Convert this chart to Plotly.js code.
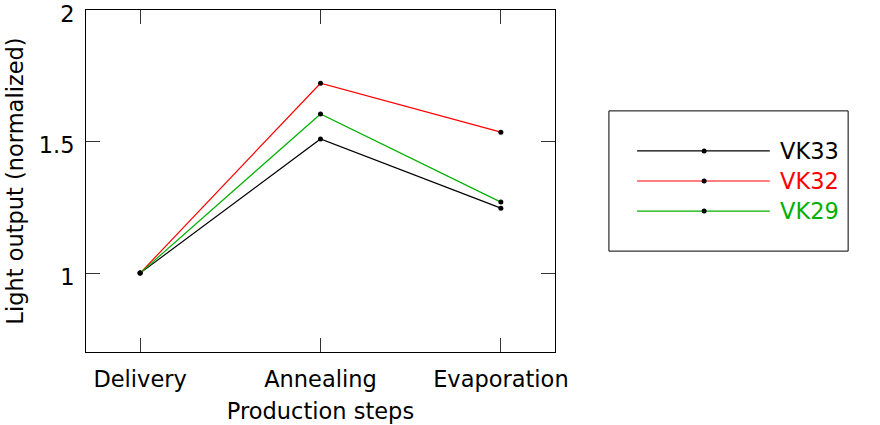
<!DOCTYPE html>
<html>
<head>
<meta charset="utf-8">
<script src="https://cdn.plot.ly/plotly-3.0.1.min.js"></script>
<style>html,body{margin:0;padding:0;background:#fff;}#chart{width:880px;height:425px;}</style>
</head>
<body>
<div id="chart"></div>
<script>
const steps = ["Delivery", "Annealing", "Evaporation"];
const seriesNames = ["VK33", "VK32", "VK29"];
const seriesColors = ["#000000", "#ff0000", "#00b000"];
const vk33 = [1.0, 1.51, 1.247];
const vk32 = [1.0, 1.722, 1.536];
const vk29 = [1.0, 1.605, 1.27];
const yTickVals = [1, 1.5, 2];
const yTickText = ["1", "1.5", "2"];

const FONT = "DejaVu Sans, sans-serif";
const FS = 22.5;
const allValues = [vk33, vk32, vk29];
const xIdx = steps.map((s, i) => i);

const traces = allValues.map((vals, k) => ({
  x: xIdx,
  y: vals,
  type: "scatter",
  mode: "lines+markers",
  name: seriesNames[k],
  line: {color: seriesColors[k], width: 1.2},
  marker: {color: "#000", size: 5},
  hoverinfo: "skip",
  showlegend: false
}));

// manual legend in paper coordinates
const legRowsY = [0.588, 0.5, 0.412];
const shapes = [{
  type: "rect", xref: "paper", yref: "paper",
  x0: 1.115, x1: 1.625, y0: 0.295, y1: 0.705,
  line: {color: "#000", width: 1}
}];
const annotations = [];
seriesNames.forEach((n, k) => {
  shapes.push({
    type: "line", xref: "paper", yref: "paper",
    x0: 1.175, x1: 1.458, y0: legRowsY[k], y1: legRowsY[k],
    line: {color: seriesColors[k], width: 1.2}
  });
  shapes.push({
    type: "circle", xref: "paper", yref: "paper",
    xsizemode: "pixel", ysizemode: "pixel",
    xanchor: 1.318, yanchor: legRowsY[k],
    x0: -2.5, x1: 2.5, y0: -2.5, y1: 2.5,
    fillcolor: "#000", line: {color: "#000", width: 0}
  });
  annotations.push({
    xref: "paper", yref: "paper", x: 1.476, y: legRowsY[k],
    xanchor: "left", yanchor: "middle", showarrow: false,
    text: n, font: {family: FONT, size: FS, color: seriesColors[k]}
  });
});

const layout = {
  width: 880, height: 425,
  margin: {l: 86, r: 325, t: 10, b: 73, pad: 0},
  paper_bgcolor: "#fff", plot_bgcolor: "#fff",
  font: {family: FONT, size: FS, color: "#000"},
  showlegend: false,
  xaxis: {
    range: [-0.3, 2.3],
    tickvals: xIdx, ticktext: steps,
    ticks: "inside", ticklen: 14, tickwidth: 1, tickcolor: "#333",
    ticklabelstandoff: 7,
    showline: true, linecolor: "#000", linewidth: 1, mirror: "ticks",
    showgrid: false, zeroline: false,
    tickfont: {family: FONT, size: FS, color: "#000"},
    title: {text: "Production steps", font: {family: FONT, size: FS, color: "#000"}, standoff: 12}
  },
  yaxis: {
    range: [0.7, 2.0005],
    tickvals: yTickVals, ticktext: yTickText,
    ticks: "inside", ticklen: 14, tickwidth: 1, tickcolor: "#333",
    ticklabelstandoff: 6, ticklabelshift: 4, ticklabeloverflow: "allow",
    showline: true, linecolor: "#000", linewidth: 1, mirror: "ticks",
    showgrid: false, zeroline: false,
    tickfont: {family: FONT, size: FS, color: "#000"},
    title: {text: "Light output (normalized)", font: {family: FONT, size: FS, color: "#000"}, standoff: 8}
  },
  shapes: shapes,
  annotations: annotations
};

Plotly.newPlot("chart", traces, layout, {displayModeBar: false, staticPlot: true});
</script>
</body>
</html>
